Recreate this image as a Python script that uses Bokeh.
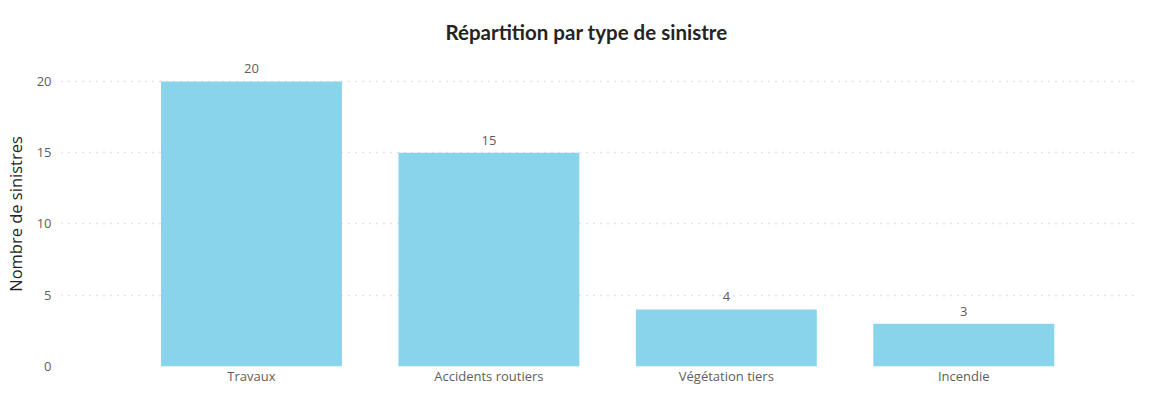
from bokeh.plotting import figure
from bokeh.models import ColumnDataSource, Range1d, FixedTicker, LabelSet
from bokeh.core.properties import value
from bokeh.embed import file_html
from bokeh.resources import INLINE

categories = ["Travaux", "Accidents routiers", "Végétation tiers", "Incendie"]
values = [20, 15, 4, 3]
y_ticks = [0, 5, 10, 15, 20]
title_text = "Répartition par type de sinistre"

xs = list(range(len(categories)))
src = ColumnDataSource(dict(x=xs, top=values, label=[str(v) for v in values]))

p = figure(width=1139, height=387, output_backend="svg", toolbar_location=None,
           x_range=Range1d(-0.80, 3.74), y_range=Range1d(0, 21.4),
           min_border_left=57, min_border_right=0, min_border_top=58, min_border_bottom=10,
           title=title_text)
p.outline_line_color = None
p.background_fill_color = "white"
p.border_fill_color = "white"

p.title.align = "left"
p.title.offset = 384
p.title.vertical_align = "bottom"
p.title.standoff = 35
p.title.text_font = "Lato"
p.title.text_font_style = "bold"
p.title.text_font_size = "20.5px"
p.title.text_color = "#252423"

p.vbar(x="x", top="top", width=0.762, source=src, fill_color="#8AD4EB", line_color=None)

p.add_layout(LabelSet(x="x", y="top", text="label", source=src, text_align="center",
                      text_baseline="bottom", y_offset=8, text_font=value("Open Sans"),
                      text_font_size="13px", text_color="#605E5C"))

p.xaxis.ticker = FixedTicker(ticks=xs)
p.xaxis.major_label_overrides = {i: c for i, c in enumerate(categories)}
p.yaxis.ticker = FixedTicker(ticks=y_ticks)
for ax in (p.xaxis, p.yaxis):
    ax.axis_line_color = None
    ax.major_tick_line_color = None
    ax.minor_tick_line_color = None
    ax.major_tick_out = 0
    ax.major_tick_in = 0
    ax.minor_tick_out = 0
    ax.minor_tick_in = 0
    ax.major_label_text_font = "Open Sans"
    ax.major_label_text_font_size = "13px"
    ax.major_label_text_color = "#605E5C"
p.xaxis.major_label_standoff = 0
p.yaxis.major_label_standoff = 10
p.yaxis.axis_label = "Nombre de sinistres"
p.yaxis.axis_label_text_font = "Open Sans"
p.yaxis.axis_label_text_font_style = "normal"
p.yaxis.axis_label_text_font_size = "16.5px"
p.yaxis.axis_label_text_color = "#252423"
p.yaxis.axis_label_standoff = 7

p.xgrid.grid_line_color = None
p.ygrid.grid_line_color = "#C8C6C4"
p.ygrid.grid_line_dash = "1 6"
p.ygrid.grid_line_width = 1.5

open("out.html", "w").write(file_html(p, INLINE))
